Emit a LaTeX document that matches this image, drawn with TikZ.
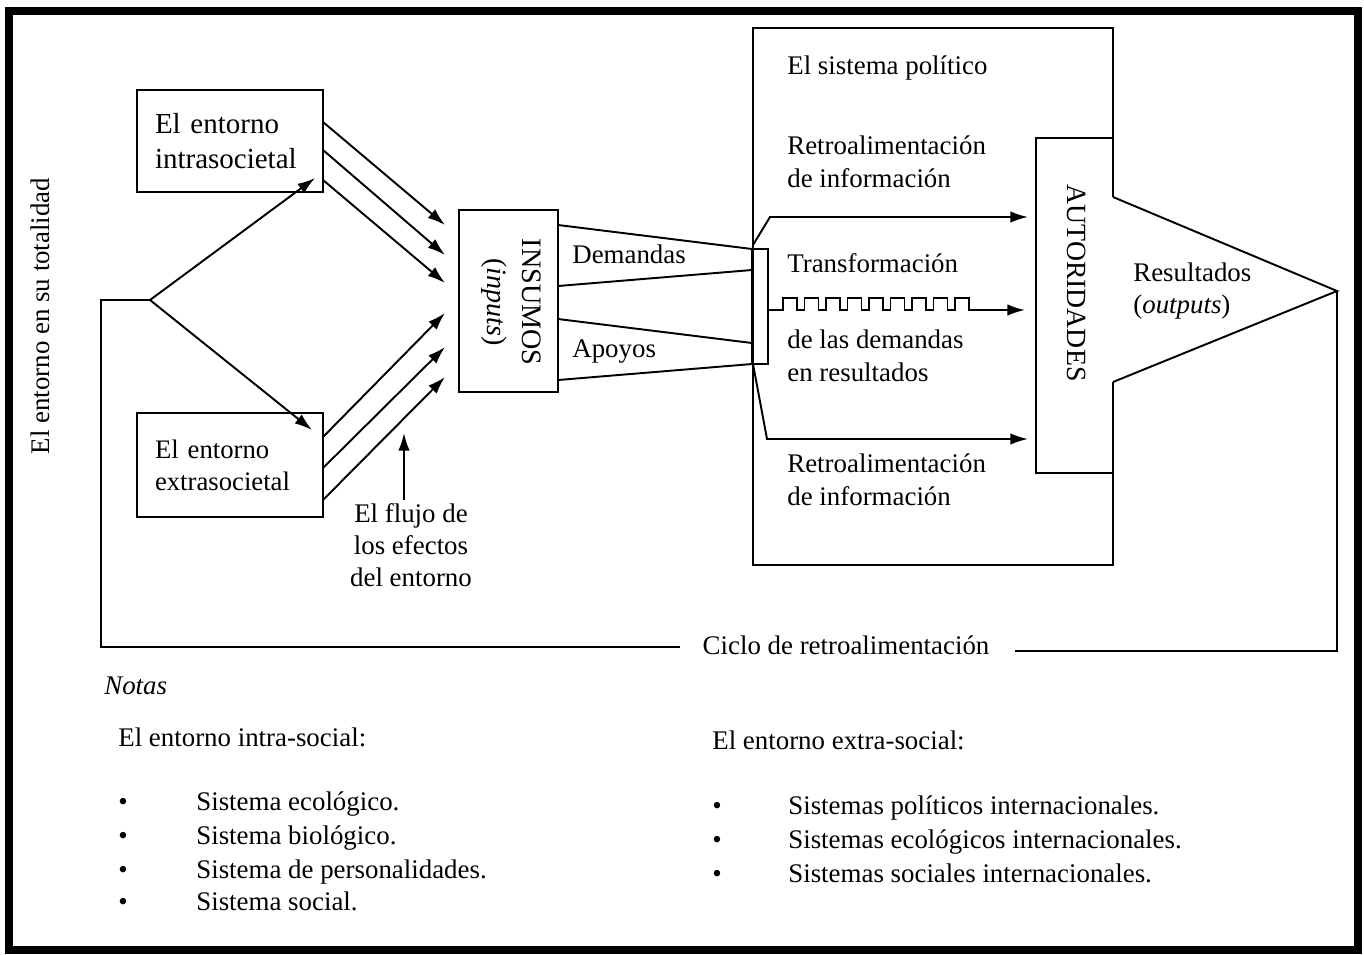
\documentclass[tikz,border=0pt]{standalone}
\usepackage{fontspec}
\setmainfont{Liberation Serif}
\usetikzlibrary{arrows.meta,calc}
\begin{document}
\begin{tikzpicture}[x=0.02cm,y=-0.02cm,
  ln/.style={line width=1.1pt},
  arr/.style={ln,-{Latex[length=10pt,width=6.5pt]}},
  box/.style={draw,ln,inner sep=0pt},
  txt/.style={inner sep=0pt,anchor=west,align=left,font=\fontsize{15.3}{18.7}\selectfont},
  btxt/.style={txt,anchor=base west},
  ctxt/.style={inner sep=0pt,align=center,font=\fontsize{15.3}{18.2}\selectfont}]
\useasboundingbox (0,0) rectangle (1364,954);
% outer frame
\draw[line width=4.6pt] (9,11) rectangle (1358,950);

% environment boxes
\node[box,minimum width=3.72cm,minimum height=2.04cm,align=left,text width=3.0cm,
      font=\fontsize{16.5}{19.8}\selectfont] (intra) at (230,141) {El entorno\\intrasocietal};
\node[box,minimum width=3.72cm,minimum height=2.08cm,align=left,text width=3.0cm,
      font=\fontsize{15.2}{18.2}\selectfont] (extra) at (230,465) {El entorno\\extrasocietal};

% insumos box
\node[box,minimum width=1.98cm,minimum height=3.64cm] (ins) at (508.5,301) {};
\node[ctxt,rotate=-90,font=\fontsize{16}{19.8}\selectfont] (instxt) at (511,302) {INSUMOS\\(\textit{inputs})};

% political system outline
\coordinate (ptop) at (1113,197);
\coordinate (pbot) at (1113,382);
\coordinate (tip) at (1337,291);
\draw[ln] (ptop) -- (1113,28) -- (753,28) -- (753,565) -- (1113,565) -- (pbot);
\draw[ln] (1113,138) -- (1036,138) -- (1036,473) -- (1113,473);
\draw[ln,line join=miter] (ptop) -- (tip) -- (pbot);
\node[ctxt,rotate=-90,font=\fontsize{15.8}{19}\selectfont] (aut) at (1077,283) {AUTORIDADES};

% small converter rectangle
\node[box,minimum width=0.32cm,minimum height=2.3cm] (conv) at (760,306.5) {};

% feedback loop
\coordinate (j) at (150,300);
\node[ctxt,anchor=base] (ciclo) at (846,654) {Ciclo de retroalimentación};
\draw[ln] (tip) -- (1337,651) -- (1015,651);
\draw[ln] (680,647) -- (101,647) -- (101,300) -- (j);

% arrows from junction
\draw[arr] (j) -- (315,178);
\draw[arr] (j) -- (312,430);

% flows into insumos
\coordinate (i1) at (323,122); \coordinate (e1) at (445,225);
\coordinate (i2) at (323,150); \coordinate (e2) at (445,255);
\coordinate (i3) at (323,180); \coordinate (e3) at (445,283);
\coordinate (x1) at (323,437); \coordinate (f1) at (445,313);
\coordinate (x2) at (323,468); \coordinate (f2) at (445,347);
\coordinate (x3) at (323,500); \coordinate (f3) at (445,377);
\draw[arr] (i1) -- (e1);
\draw[arr] (i2) -- (e2);
\draw[arr] (i3) -- (e3);
\draw[arr] (x1) -- (f1);
\draw[arr] (x2) -- (f2);
\draw[arr] (x3) -- (f3);

% flujo label
\node[ctxt,anchor=north] (flujo) at (411,503) {El flujo de\\los efectos\\del entorno};
\draw[arr] (flujo.north) ++(-7,-3) coordinate (fl0) (fl0) -- ++(0,-67);

% demandas / apoyos channels
\draw[ln] (558,225) -- (752,249);
\draw[ln] (558,286) -- (752,270);
\draw[ln] (558,319) -- (752,343);
\draw[ln] (558,380) -- (752,364);
\node[btxt] (dem) at (572,263) {Demandas};
\node[btxt] (apo) at (572,357) {Apoyos};

% arrows into autoridades
\draw[arr] (753,245) -- (770,217) -- (1028,217);
\draw[arr] (753,364) -- (767,439) -- (1028,439);
\draw[arr] (conv.east |- 0,310) -- (783,310)
  \foreach \i in {0,...,8} { -- ++(0,-12) -- ++(14,0) -- ++(0,12) -- ++(7.5,0) } -- (1025,310);

% political system texts
\node[btxt] (sp) at (787,74) {El sistema político};
\node[txt] (r1) at (787,161.5) {Retroalimentación\\de información};
\node[btxt] (tr) at (787,272) {Transformación};
\node[txt] (dl) at (787,356) {de las demandas\\en resultados};
\node[txt] (r2) at (787,480) {Retroalimentación\\de información};
\node[txt] (res) at (1133,291) {Resultados\\(\textit{outputs})};

% left vertical label
\node[ctxt,rotate=90] (tot) at (40,316) {El entorno en su totalidad};

% notes
\node[btxt] (notas) at (104,694) {\textit{Notas}};
\node[btxt] (intrah) at (118,746) {El entorno intra-social:};
\node[btxt] (b1) at (118,810) {\textbullet}; \node[btxt] (n1) at (196,810) {Sistema ecológico.};
\node[btxt] (b2) at (118,844) {\textbullet}; \node[btxt] (n2) at (196,844) {Sistema biológico.};
\node[btxt] (b3) at (118,878) {\textbullet}; \node[btxt] (n3) at (196,878) {Sistema de personalidades.};
\node[btxt] (b4) at (118,910) {\textbullet}; \node[btxt] (n4) at (196,910) {Sistema social.};

\node[btxt] (extrah) at (712,749) {El entorno extra-social:};
\node[btxt] (c1) at (712,814) {\textbullet}; \node[btxt] (m1) at (788,814) {Sistemas políticos internacionales.};
\node[btxt] (c2) at (712,848) {\textbullet}; \node[btxt] (m2) at (788,848) {Sistemas ecológicos internacionales.};
\node[btxt] (c3) at (712,882) {\textbullet}; \node[btxt] (m3) at (788,882) {Sistemas sociales internacionales.};
\end{tikzpicture}
\end{document}
